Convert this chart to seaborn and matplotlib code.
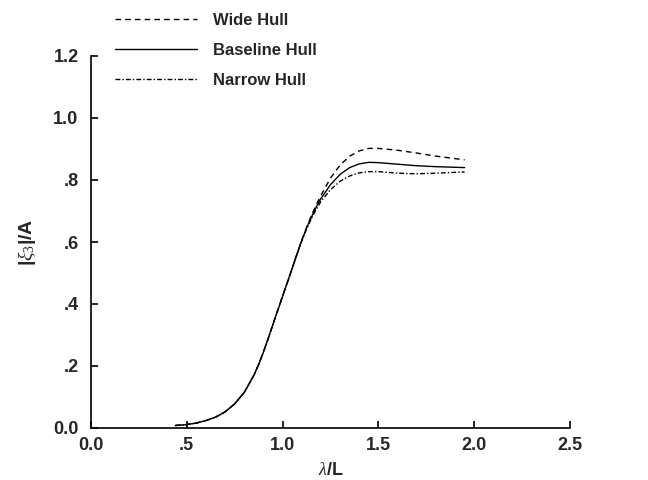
import numpy as np
import pandas as pd
import matplotlib
matplotlib.use("Agg")
import matplotlib.pyplot as plt
import seaborn as sns

# wavelength ratio lambda/L
x_vals = [0.44, 0.50, 0.55, 0.60, 0.65, 0.70, 0.75, 0.80, 0.85, 0.875, 0.90, 0.925, 0.95,
          0.975, 1.00, 1.025, 1.05, 1.075, 1.10, 1.125, 1.15, 1.175, 1.20, 1.25, 1.30,
          1.35, 1.40, 1.45, 1.50, 1.60, 1.70, 1.80, 1.95]

wide_hull = [0.008, 0.011, 0.016, 0.024, 0.035, 0.052, 0.078, 0.115, 0.170, 0.205, 0.245, 0.289, 0.335,
             0.380, 0.425, 0.470, 0.515, 0.561, 0.606, 0.647, 0.685, 0.719, 0.750, 0.806, 0.848,
             0.877, 0.894, 0.902, 0.902, 0.896, 0.887, 0.877, 0.865]
baseline_hull = [0.008, 0.011, 0.016, 0.024, 0.035, 0.052, 0.078, 0.115, 0.170, 0.205, 0.245, 0.289, 0.335,
                 0.380, 0.425, 0.470, 0.515, 0.561, 0.605, 0.645, 0.680, 0.712, 0.740, 0.785, 0.818,
                 0.840, 0.852, 0.857, 0.856, 0.851, 0.846, 0.843, 0.840]
narrow_hull = [0.008, 0.011, 0.016, 0.024, 0.035, 0.052, 0.078, 0.115, 0.170, 0.205, 0.245, 0.289, 0.335,
               0.380, 0.425, 0.470, 0.515, 0.560, 0.603, 0.642, 0.675, 0.705, 0.731, 0.769, 0.796,
               0.813, 0.823, 0.827, 0.827, 0.822, 0.820, 0.822, 0.826]

series_names = ["Wide Hull", "Baseline Hull", "Narrow Hull"]

x_ticks = [0.0, 0.5, 1.0, 1.5, 2.0, 2.5]
x_tick_labels = ["0.0", ".5", "1.0", "1.5", "2.0", "2.5"]
y_ticks = [0.0, 0.2, 0.4, 0.6, 0.8, 1.0, 1.2]
y_tick_labels = ["0.0", ".2", ".4", ".6", ".8", "1.0", "1.2"]

df = pd.DataFrame({
    "x": x_vals * 3,
    "y": wide_hull + baseline_hull + narrow_hull,
    "Hull": [series_names[0]] * len(x_vals) + [series_names[1]] * len(x_vals) + [series_names[2]] * len(x_vals),
})

sns.set_style("ticks")
plt.rcParams["font.family"] = ["Liberation Sans", "DejaVu Sans"]
plt.rcParams["mathtext.fontset"] = "custom"
plt.rcParams["mathtext.rm"] = "Liberation Serif"
plt.rcParams["mathtext.it"] = "Liberation Serif:italic"

fig = plt.figure(figsize=(6.48, 4.8), dpi=100)
ax = fig.add_axes([91 / 648, 1 - 428 / 480, 479 / 648, 372 / 480])

dashes = {
    "Wide Hull": (4, 3),
    "Baseline Hull": "",
    "Narrow Hull": (3.5, 1.5, 1, 1.5),
}
sns.lineplot(data=df, x="x", y="y", hue="Hull", style="Hull",
             palette={n: "black" for n in series_names}, dashes=dashes,
             linewidth=1.0, ax=ax, legend=True)

ax.set_xlim(0, 2.5)
ax.set_ylim(0, 1.2)
ax.set_xticks(x_ticks)
ax.set_xticklabels(x_tick_labels, fontsize=13, fontweight="bold")
ax.set_yticks(y_ticks)
ax.set_yticklabels(y_tick_labels, fontsize=13, fontweight="bold")
ax.tick_params(direction="in", length=5, width=1.2, color="black")
ax.tick_params(axis="x", pad=6.5)
ax.tick_params(axis="y", pad=9)
for s in ["left", "bottom"]:
    ax.spines[s].set_linewidth(1.2)
    ax.spines[s].set_color("black")
sns.despine(ax=ax)

ax.set_xlabel(r"$\lambda$/L", fontsize=13, fontweight="bold", labelpad=6)
ax.set_ylabel(r"|$\xi_3$|/A", fontsize=14, fontweight="bold", labelpad=11)

handles, labels = ax.get_legend_handles_labels()
ax.get_legend().remove()
leg = fig.legend(handles, labels, loc="upper left",
                 bbox_to_anchor=(115 / 648, 1 - 13 / 480),
                 frameon=False, borderpad=0, borderaxespad=0,
                 handlelength=4.9, handletextpad=1.0, labelspacing=0.89,
                 prop={"size": 12, "weight": "bold"})

fig.savefig("out.png", dpi=100)
